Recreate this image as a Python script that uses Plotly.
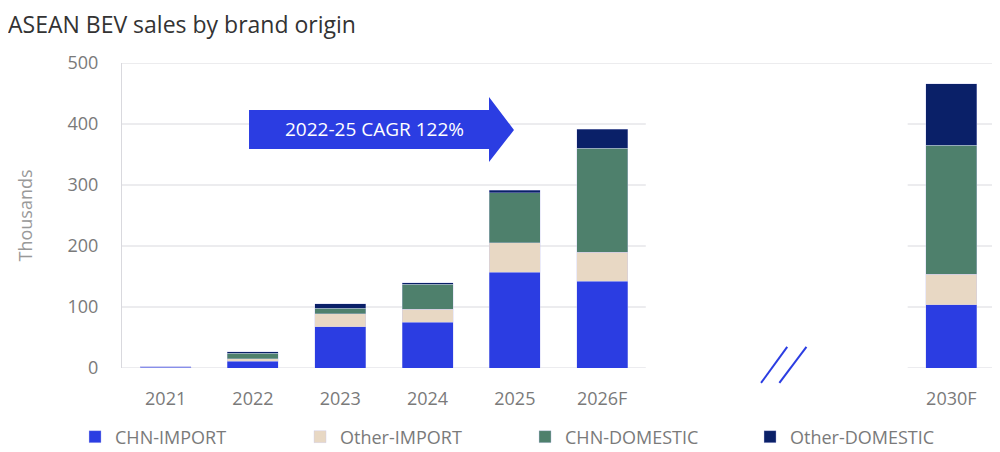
import plotly.graph_objects as go

# data (thousands of BEVs)
years = ['2021', '2022', '2023', '2024', '2025', '2026F', '2030F']
slots = [0, 1, 2, 3, 4, 5, 9]          # 2030F sits after an axis break
chn_import = [1.5, 11, 68, 75, 157, 142, 104]
other_import = [0.5, 4, 21, 21, 48, 48, 50]
chn_domestic = [0, 9, 9, 41, 82, 170, 211]
other_domestic = [0, 3, 7, 3, 4, 31, 101]
y_ticks = [0, 100, 200, 300, 400, 500]

BLUE = '#2b3de2'
BEIGE = '#e8d8c4'
GREEN = '#4e806c'
NAVY = '#0a2068'
GRID = '#d9d9de'
FONT = 'Open Sans'

series = [
    ('CHN-IMPORT', chn_import, BLUE),
    ('Other-IMPORT', other_import, BEIGE),
    ('CHN-DOMESTIC', chn_domestic, GREEN),
    ('Other-DOMESTIC', other_domestic, NAVY),
]

fig = go.Figure()
for name, vals, col in series:
    fig.add_trace(go.Bar(
        x=slots, y=vals, name=name, width=0.585,
        marker=dict(color=col, line=dict(color='rgba(200,200,240,0.6)', width=0.6)),
    ))

# gridlines broken across the gap between 2026F and 2030F
shapes = []
for v in y_ticks[:-1]:
    for x0, x1 in [(-0.5, 5.5), (8.5, 9.5)]:
        shapes.append(dict(type='line', xref='x', yref='y', x0=x0, x1=x1, y0=v, y1=v,
                           line=dict(color=GRID, width=1), layer='below'))
shapes.append(dict(type='line', xref='x', yref='y', x0=-0.5, x1=9.5, y0=500, y1=500,
                   line=dict(color=GRID, width=1), layer='below'))

# axis break marks "//"
for x0, x1 in [(6.82, 7.12), (7.03, 7.34)]:
    shapes.append(dict(type='line', xref='x', yref='paper', x0=x0, x1=x1, y0=-0.049, y1=0.069,
                       line=dict(color=BLUE, width=2)))

# CAGR arrow
shapes.append(dict(
    type='path', xref='paper', yref='paper',
    path='M0.1455,0.7180 L0.1455,0.8459 L0.4204,0.8459 L0.4204,0.8885 '
         'L0.4490,0.7803 L0.4204,0.6754 L0.4204,0.7180 Z',
    fillcolor=BLUE, line=dict(width=0), layer='above'))

fig.add_annotation(x=0.2897, y=0.782, xref='paper', yref='paper', text='2022-25 CAGR 122%',
                   xanchor='center', yanchor='middle',
                   showarrow=False, font=dict(family=FONT, size=19, color='white'))

# page body has an 8px margin, so the figure is 8px smaller and shifted
fig.update_layout(
    width=992, height=444,
    margin=dict(l=114, r=5, t=55, b=84, autoexpand=False),
    paper_bgcolor='white', plot_bgcolor='white',
    barmode='stack',
    shapes=shapes,
    font=dict(family=FONT, color='#7a7a7a'),
    title=dict(text='ASEAN BEV sales by brand origin', x=0.0, xref='container', xanchor='left',
               y=0.962, yref='container', yanchor='middle',
               font=dict(family=FONT, size=23, color='#333333')),
    xaxis=dict(range=[-0.5, 9.5], tickvals=slots, ticktext=years, showgrid=False,
               zeroline=False, showline=False, ticks='', ticklabelstandoff=18,
               automargin=False, tickfont=dict(size=18, color='#7a7a7a')),
    yaxis=dict(range=[0, 500], tickvals=y_ticks, showgrid=False, zeroline=False,
               showline=True, mirror=True, linecolor=GRID, linewidth=1,
               ticks='', ticklabelstandoff=19, automargin=False,
               tickfont=dict(size=18, color='#7a7a7a'),
               title=dict(text='Thousands', standoff=30,
                          font=dict(size=18, color='#999999'))),
    legend=dict(orientation='h', x=-0.0538, xanchor='left', y=-0.226, yanchor='middle',
                font=dict(size=18, color='#7a7a7a'), entrywidth=180, entrywidthmode='pixels',
                traceorder='normal'),
)

fig.write_html('out.html')
